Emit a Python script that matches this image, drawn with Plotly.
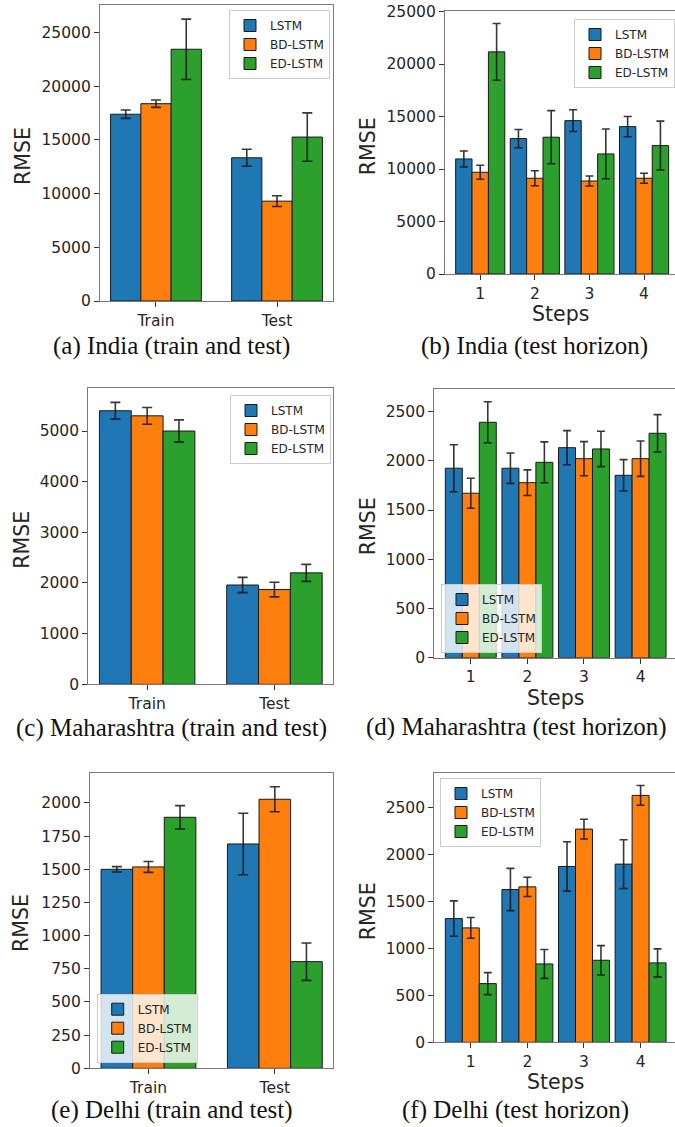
import plotly.graph_objects as go

W, H = 675, 1127

models = ["LSTM", "BD-LSTM", "ED-LSTM"]
colors = ["#1f77b4", "#ff7f0e", "#2ca02c"]
phases = ["Train", "Test"]
steps = [1, 2, 3, 4]

# rows follow models: LSTM, BD-LSTM, ED-LSTM
india_tt_mean = [[17400, 13340], [18380, 9300], [23450, 15270]]
india_tt_err = [[390, 790], [340, 500], [2810, 2250]]
india_st_mean = [[10960, 12900, 14610, 14040], [9690, 9120, 8860, 9120], [21160, 13030, 11440, 12230]]
india_st_err = [[760, 870, 1030, 970], [670, 715, 480, 480], [2700, 2530, 2370, 2330]]

maha_tt_mean = [[5400, 1960], [5300, 1870], [5000, 2200]]
maha_tt_err = [[165, 150], [165, 145], [220, 168]]
maha_st_mean = [[1925, 1925, 2134, 1853], [1671, 1778, 2022, 2022], [2392, 1985, 2121, 2280]]
maha_st_err = [[239, 154, 173, 159], [152, 130, 173, 180], [208, 208, 180, 190]]

delhi_tt_mean = [[1500, 1691], [1518, 2028], [1892, 804]]
delhi_tt_err = [[20, 232], [41, 94], [88, 141]]
delhi_st_mean = [[1315, 1624, 1869, 1894], [1216, 1652, 2266, 2624], [624, 833, 872, 844]]
delhi_st_err = [[188, 225, 262, 259], [110, 103, 105, 105], [117, 154, 156, 149]]

captions = ["(a) India (train and test)", "(b) India (test horizon)",
            "(c) Maharashtra (train and test)", "(d) Maharashtra (test horizon)",
            "(e) Delhi (train and test)", "(f) Delhi (test horizon)"]

# panel boxes in pixels: left, right, top, bottom
panels = [
    dict(x=phases, mean=india_tt_mean, err=india_tt_err, box=(100, 333, 5, 301), dtick=5000,
         xr=[-0.4625, 1.4625], cap=5, bw=0.25, legend=dict(x=229, y=10, xa="left", ya="top"),
         ylab=(22.3, 155.7), steps=None, capt=(171.5, 346)),
    dict(x=steps, mean=india_st_mean, err=india_st_err, box=(445, 675, 11, 274), dtick=5000,
         xr=[0.355, 4.567], cap=4, bw=0.3, legend=dict(x=574, y=19, xa="left", ya="top"),
         ylab=(368.3, 146), steps=(560.7, 314), capt=(534.7, 346)),
    dict(x=phases, mean=maha_tt_mean, err=maha_tt_err, box=(88.3, 333.3, 388.3, 684.3), dtick=1000,
         xr=[-0.4625, 1.4625], cap=5, bw=0.25, legend=dict(x=230, y=395, xa="left", ya="top"),
         ylab=(21.7, 540), steps=None, capt=(171.7, 728)),
    dict(x=steps, mean=maha_st_mean, err=maha_st_err, box=(434.3, 675, 389, 657.7), dtick=500,
         xr=[0.355, 4.608], cap=4, bw=0.3, legend=dict(x=441, y=653, xa="left", ya="bottom"),
         ylab=(368.3, 526), steps=(555, 698), capt=(516.3, 727)),
    dict(x=phases, mean=delhi_tt_mean, err=delhi_tt_err, box=(90, 333.3, 772.7, 1068.3), dtick=250,
         xr=[-0.4625, 1.4625], cap=5, bw=0.25, legend=dict(x=96.7, y=1062.7, xa="left", ya="bottom"),
         ylab=(21.7, 923.3), steps=None, capt=(171.5, 1109.5)),
    dict(x=steps, mean=delhi_st_mean, err=delhi_st_err, box=(434.3, 675, 772.7, 1042.3), dtick=500,
         xr=[0.355, 4.608], cap=4, bw=0.3, legend=dict(x=440, y=778, xa="left", ya="top"),
         ylab=(368.3, 911), steps=(555, 1082), capt=(515.8, 1109.5)),
]

TICK = dict(family="DejaVu Sans", size=15.5, color="#262626")
fig = go.Figure()
annotations = []
layout = {}


def px(x):
    return x / W


def py(y):
    return 1 - y / H


for i, p in enumerate(panels):
    n = i + 1
    sfx = "" if n == 1 else str(n)
    lg = "legend" if n == 1 else "legend%d" % n
    bw = p["bw"]
    for m, name in enumerate(models):
        fig.add_trace(go.Bar(
            x=p["x"], y=p["mean"][m], name=name,
            width=bw, offset=(m - 1.5) * bw,
            marker=dict(color=colors[m], line=dict(color="#1a1a1a", width=1)),
            error_y=dict(type="data", array=p["err"][m], visible=True,
                         color="rgba(20,20,20,0.85)", thickness=1.6, width=p["cap"]),
            xaxis="x" + sfx, yaxis="y" + sfx, legend=lg, showlegend=True,
        ))
    l, r, t, b = p["box"]
    ymax = max(v + e for row_v, row_e in zip(p["mean"], p["err"]) for v, e in zip(row_v, row_e)) * 1.05
    axcommon = dict(showline=True, mirror=True, linecolor="#7a7a7a", linewidth=1.2,
                    ticks="outside", ticklen=5, tickwidth=1, tickcolor="#333333",
                    tickfont=TICK, showgrid=False, zeroline=False, automargin=False)
    xa = dict(axcommon, domain=[px(l), min(px(r), 1.0)], anchor="y" + sfx, range=p["xr"])
    if p["steps"] is not None:
        xa.update(tickmode="array", tickvals=steps, ticktext=[str(s) for s in steps])
    else:
        xa.update(type="category")
    ya = dict(axcommon, domain=[py(b), py(t)], anchor="x" + sfx, range=[0, ymax], dtick=p["dtick"],
              tick0=0, tickformat="d")
    layout["xaxis" + sfx] = xa
    layout["yaxis" + sfx] = ya
    L = p["legend"]
    layout[lg] = dict(x=px(L["x"]), y=py(L["y"]), xanchor=L["xa"], yanchor=L["ya"],
                      xref="paper", yref="paper",
                      bgcolor="rgba(255,255,255,0.8)", bordercolor="#cccccc", borderwidth=1,
                      font=dict(family="DejaVu Sans", size=12, color="#262626"),
                      tracegroupgap=0, itemwidth=30)
    annotations.append(dict(text="RMSE", x=px(p["ylab"][0]), y=py(p["ylab"][1]), xref="paper",
                            yref="paper", textangle=-90, showarrow=False, xanchor="center",
                            yanchor="middle", borderpad=0,
                            font=dict(family="DejaVu Sans", size=20.5, color="#262626")))
    if p["steps"] is not None:
        annotations.append(dict(text="Steps", x=px(p["steps"][0]), y=py(p["steps"][1]), xref="paper",
                                yref="paper", showarrow=False, xanchor="center", yanchor="middle",
                                borderpad=0,
                                font=dict(family="DejaVu Sans", size=20.5, color="#262626")))
    annotations.append(dict(text=captions[i], x=px(p["capt"][0]), y=py(p["capt"][1]), xref="paper",
                            yref="paper", showarrow=False, xanchor="center", yanchor="middle",
                            borderpad=0,
                            font=dict(family="Liberation Serif", size=25, color="#111111")))

fig.update_layout(
    width=W, height=H, margin=dict(l=0, r=0, t=0, b=0, autoexpand=False),
    paper_bgcolor="white", plot_bgcolor="white",
    barmode="overlay",
    annotations=annotations, **layout,
)

fig.write_html("out.html", config={"displayModeBar": False},
               post_script="document.body.style.margin='0';")
